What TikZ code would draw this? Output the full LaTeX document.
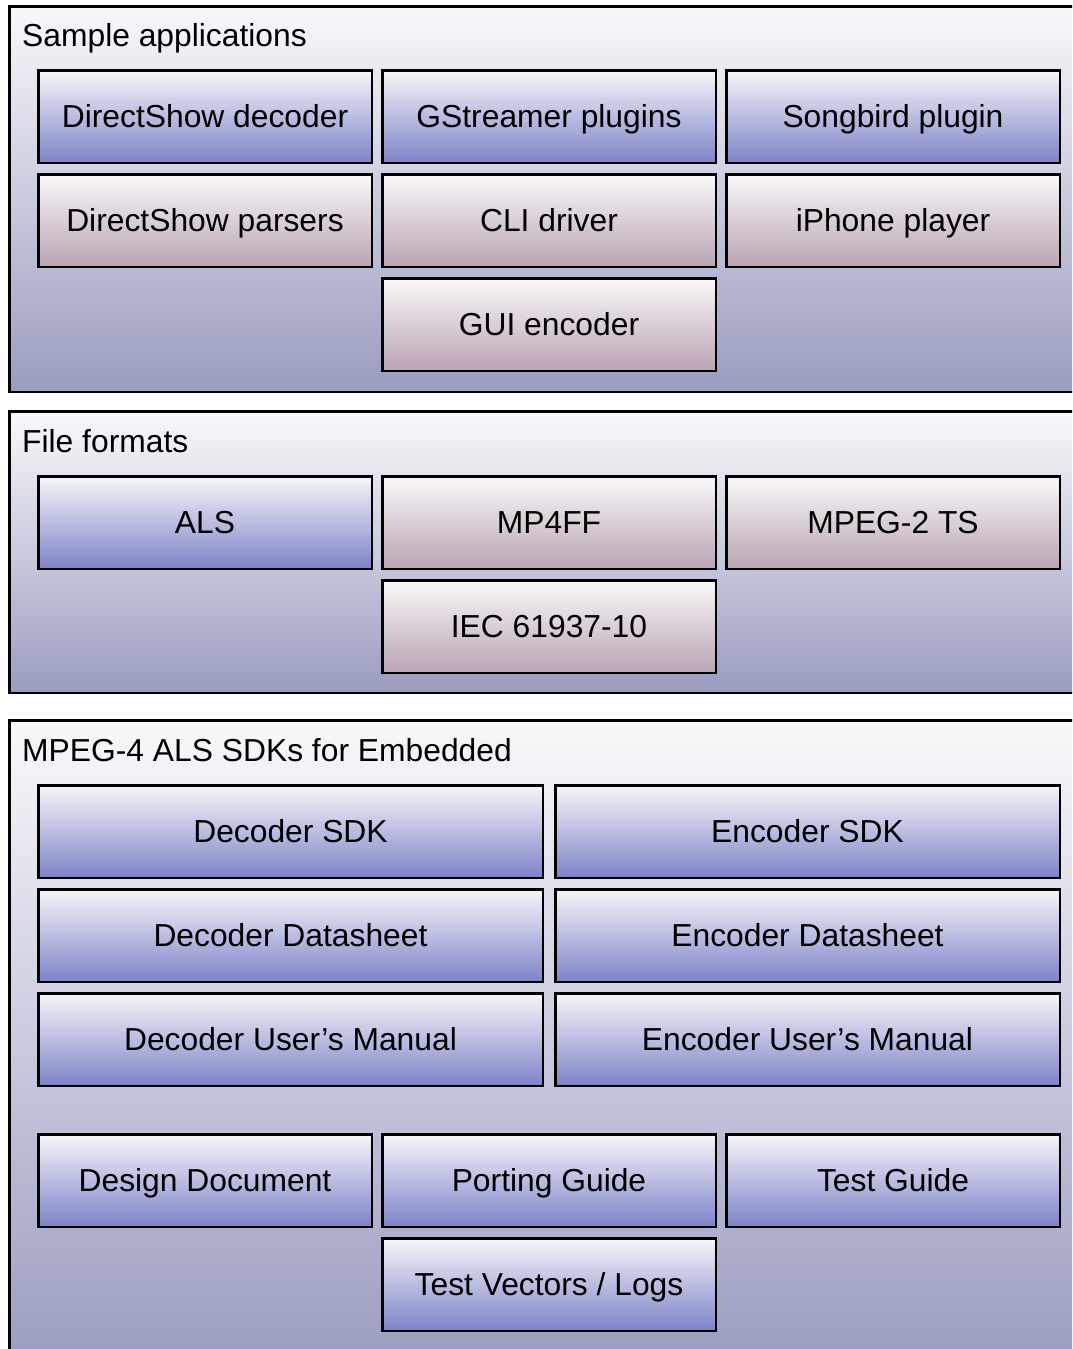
\documentclass[tikz,border=0pt]{standalone}
\usepackage{fontspec}
\setmainfont{Liberation Sans}
\definecolor{contTop}{HTML}{F9F9FB}
\definecolor{contBot}{HTML}{9A9CC0}
\definecolor{blueTop}{HTML}{F6F6FA}
\definecolor{blueBot}{HTML}{7D83C8}
\definecolor{pinkTop}{HTML}{F9F8F9}
\definecolor{pinkBot}{HTML}{BAA4B4}
\tikzset{
  container/.style={draw=black, line width=2.5pt, top color=contTop, bottom color=contBot},
  grouplabel/.style={anchor=base west, inner sep=0pt, font=\fontsize{31.8}{36}\selectfont},
  boxbase/.style={draw=black, line width=2.5pt, inner sep=0pt, minimum height=92.5pt,
    text height=22.8pt, text depth=0pt, font=\fontsize{31.8}{36}\selectfont},
  wide3/.style={minimum width=333.5pt},
  wide2/.style={minimum width=504.5pt},
  bluebox/.style={boxbase, top color=blueTop, bottom color=blueBot},
  pinkbox/.style={boxbase, top color=pinkTop, bottom color=pinkBot},
}
\begin{document}
\begin{tikzpicture}[x=1pt,y=-1pt]
\useasboundingbox[fill=white] (0,0) rectangle (1072,1349);
\clip (0,0) rectangle (1072,1349);
% containers
\draw[container] (9.25,6.25) rectangle (1090,391.75);
\draw[container] (9.25,411.25) rectangle (1090,692.75);
\draw[container] (9.25,720.25) rectangle (1090,1370);
\node[grouplabel] (lab1) at (22,46.5) {Sample applications};
\node[grouplabel] (lab2) at (22,452.5) {File formats};
\node[grouplabel] (lab3) at (22,761.5) {MPEG-4 ALS SDKs for Embedded};
% Sample applications
\node[bluebox,wide3] (dsdec) at (205,116.5) {DirectShow decoder};
\node[bluebox,wide3] (gst) at (549,116.5) {GStreamer plugins};
\node[bluebox,wide3] (song) at (893,116.5) {Songbird plugin};
\node[pinkbox,wide3] (dspar) at (205,220.5) {DirectShow parsers};
\node[pinkbox,wide3] (cli) at (549,220.5) {CLI driver};
\node[pinkbox,wide3] (iphone) at (893,220.5) {iPhone player};
\node[pinkbox,wide3] (gui) at (549,324.5) {GUI encoder};
% File formats
\node[bluebox,wide3] (als) at (205,522.5) {ALS};
\node[pinkbox,wide3] (mp4ff) at (549,522.5) {MP4FF};
\node[pinkbox,wide3] (ts) at (893,522.5) {MPEG-2 TS};
\node[pinkbox,wide3] (iec) at (549,626.5) {IEC 61937-10};
% SDKs
\node[bluebox,wide2] (decsdk) at (290.5,831.5) {Decoder SDK};
\node[bluebox,wide2] (encsdk) at (807.5,831.5) {Encoder SDK};
\node[bluebox,wide2] (decds) at (290.5,935.5) {Decoder Datasheet};
\node[bluebox,wide2] (encds) at (807.5,935.5) {Encoder Datasheet};
\node[bluebox,wide2] (decum) at (290.5,1039.5) {Decoder User’s Manual};
\node[bluebox,wide2] (encum) at (807.5,1039.5) {Encoder User’s Manual};
\node[bluebox,wide3] (design) at (205,1180.5) {Design Document};
\node[bluebox,wide3] (port) at (549,1180.5) {Porting Guide};
\node[bluebox,wide3] (test) at (893,1180.5) {Test Guide};
\node[bluebox,wide3] (vectors) at (549,1284.5) {Test Vectors / Logs};
\end{tikzpicture}
\end{document}
